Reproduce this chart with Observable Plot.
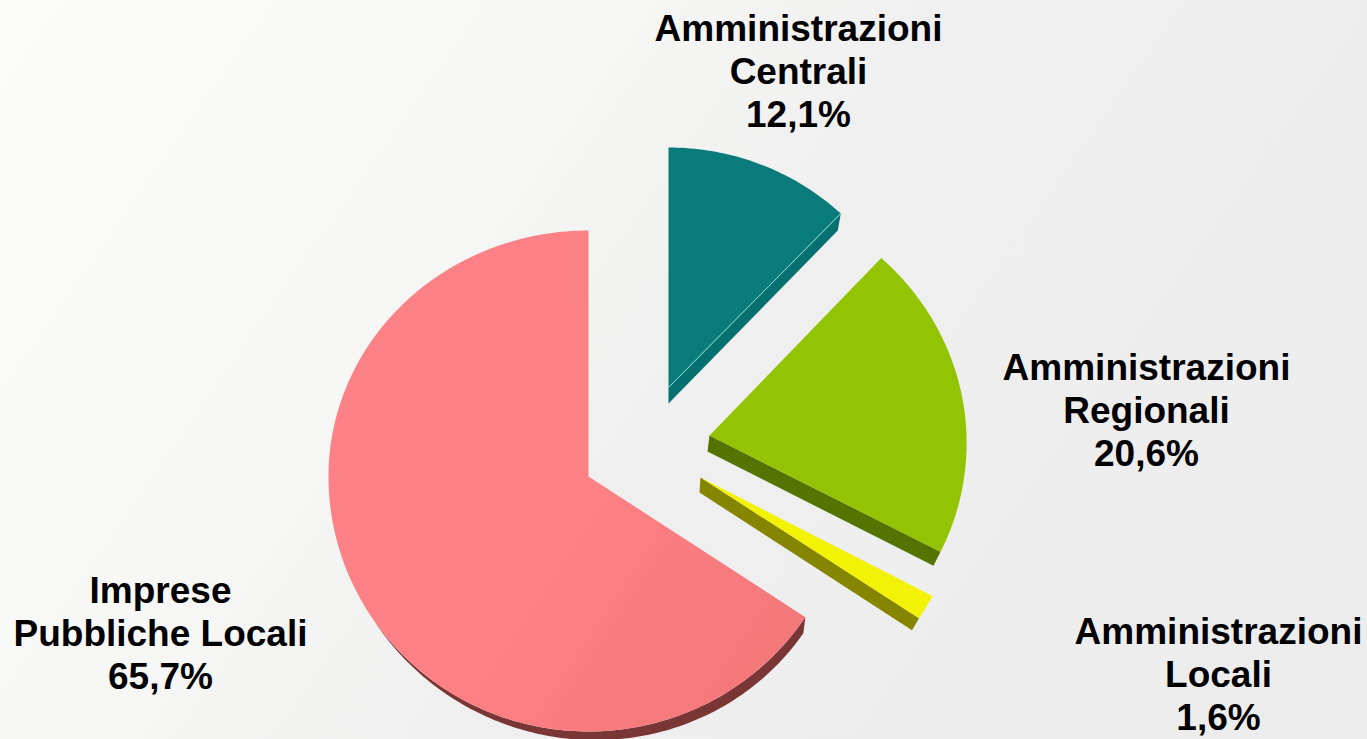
<!DOCTYPE html>
<html>
<head>
<meta charset="utf-8">
<script src="https://cdn.jsdelivr.net/npm/d3@7"></script>
<script src="https://cdn.jsdelivr.net/npm/@observablehq/plot@0.6"></script>
<style>
html,body{margin:0;padding:0;width:1367px;height:739px;overflow:hidden;
background:linear-gradient(125deg,#fcfcfb 0%,#f7f7f6 30%,#efefef 52%,#ececec 100%);}
svg{display:block;}
</style>
</head>
<body>
<div id="chart"></div>
<script>
const categories = ["Amministrazioni Centrali","Amministrazioni Regionali","Amministrazioni Locali","Imprese Pubbliche Locali"];
const values = [12.1,20.6,1.6,65.7];
const labels = ["Amministrazioni\nCentrali\n12,1%","Amministrazioni\nRegionali\n20,6%","Amministrazioni\nLocali\n1,6%","Imprese\nPubbliche Locali\n65,7%"];
const labelX = [798,1146,1218,160];
const labelY = [70,409,673,632];
const topColors = ["#0a7b7b","#93c404","#f2f205","url(#pinkGrad)"];
const sideColors = ["#066f6f","#557300","#858500","#7a3535"];
const centerX = [668,709,700,588];
const centerY = [387,435,477,476];
const radiusX = [250,257,262,260];
const radiusUp = [240,245,245,246];
const radiusDown = [240,250,255,255];
const shear = [0,0.03,0,0];
// extrusion at the slice apex and at the cut edge's rim
const apexDrop = [[0,16],[-2,16],[-1,15],[0,0]];
const rimDrop = [[-3,17],[-7,14],[-7,12],[-2,16]];

const rad = d => d * Math.PI / 180;
let cum = 0;
const slices = categories.map((name,i) => {
  const a0 = cum * 3.6; cum += values[i]; const a1 = cum * 3.6;
  return {name,i,a0,a1};
});
const rim = (s,a) => {
  const i = s.i, c = Math.cos(rad(a));
  const dy = -(c>=0?radiusUp[i]:radiusDown[i])*c;
  return [centerX[i] + radiusX[i]*Math.sin(rad(a)) + shear[i]*dy, centerY[i] + dy];
};
const arc = (s,from,to) => {
  const n = Math.max(2,Math.ceil(Math.abs(to-from)));
  return d3.range(n+1).map(k => rim(s,from+(to-from)*k/n));
};
const toRows = pts => pts.map(([x,y]) => ({x,y}));
const topPts = s => toRows([[centerX[s.i],centerY[s.i]],...arc(s,s.a0,s.a1),[centerX[s.i],centerY[s.i]]]);
const sidePts = s => {
  const i = s.i;
  const ax = centerX[i], ay = centerY[i];
  if (i === 3) {
    const from = s.a0, to = 236;
    const outer = arc(s,from,to);
    const inner = outer.slice().reverse().map(([x,y],k,arr) => {
      const a = to + (from-to)*k/(arr.length-1);
      const t = Math.pow((to-a)/(to-from),0.9);
      return [x+rimDrop[i][0]*t, y+rimDrop[i][1]*t];
    });
    return toRows([...outer,...inner]);
  }
  const [rx,ry] = rim(s,s.a1);
  return toRows([[ax,ay],[ax+apexDrop[i][0],ay+apexDrop[i][1]],[rx+rimDrop[i][0],ry+rimDrop[i][1]],[rx,ry]]);
};
const defsMark = () => {
  const d = d3.create("svg:defs");
  const g = d.append("linearGradient").attr("id","pinkGrad").attr("gradientUnits","userSpaceOnUse")
    .attr("x1",328).attr("y1",300).attr("x2",805).attr("y2",620);
  [[0,"#fb8288"],[0.55,"#fd8085"],[1,"#f3787a"]].forEach(([o,c]) =>
    g.append("stop").attr("offset",o).attr("stop-color",c));
  return d.node();
};
const labelRows = labels.map((text,i) => ({text,x:labelX[i],y:labelY[i]}));
const tealEdge = toRows([[centerX[0],centerY[0]],rim(slices[0],slices[0].a1)]);

const plot = Plot.plot({
  width:1367,height:739,margin:0,
  style:{background:"transparent"},
  x:{domain:[0,1367],range:[0,1367],axis:null},
  y:{domain:[0,739],range:[0,739],axis:null},
  marks:[
    defsMark,
    ...slices.map(s => Plot.line(sidePts(s),{x:"x",y:"y",fill:sideColors[s.i],stroke:"none",curve:"linear"})),
    ...slices.map(s => Plot.line(topPts(s),{x:"x",y:"y",fill:topColors[s.i],stroke:"none",curve:"linear"})),
    Plot.line(tealEdge,{x:"x",y:"y",stroke:"#8fdcdc",strokeWidth:1}),
    Plot.text(labelRows,{x:"x",y:"y",text:"text",fontFamily:"Liberation Sans",fontWeight:"bold",fontSize:37,lineHeight:1.162,fill:"#000",textAnchor:"middle"})
  ]
});
document.getElementById("chart").appendChild(plot);
</script>
</body>
</html>
